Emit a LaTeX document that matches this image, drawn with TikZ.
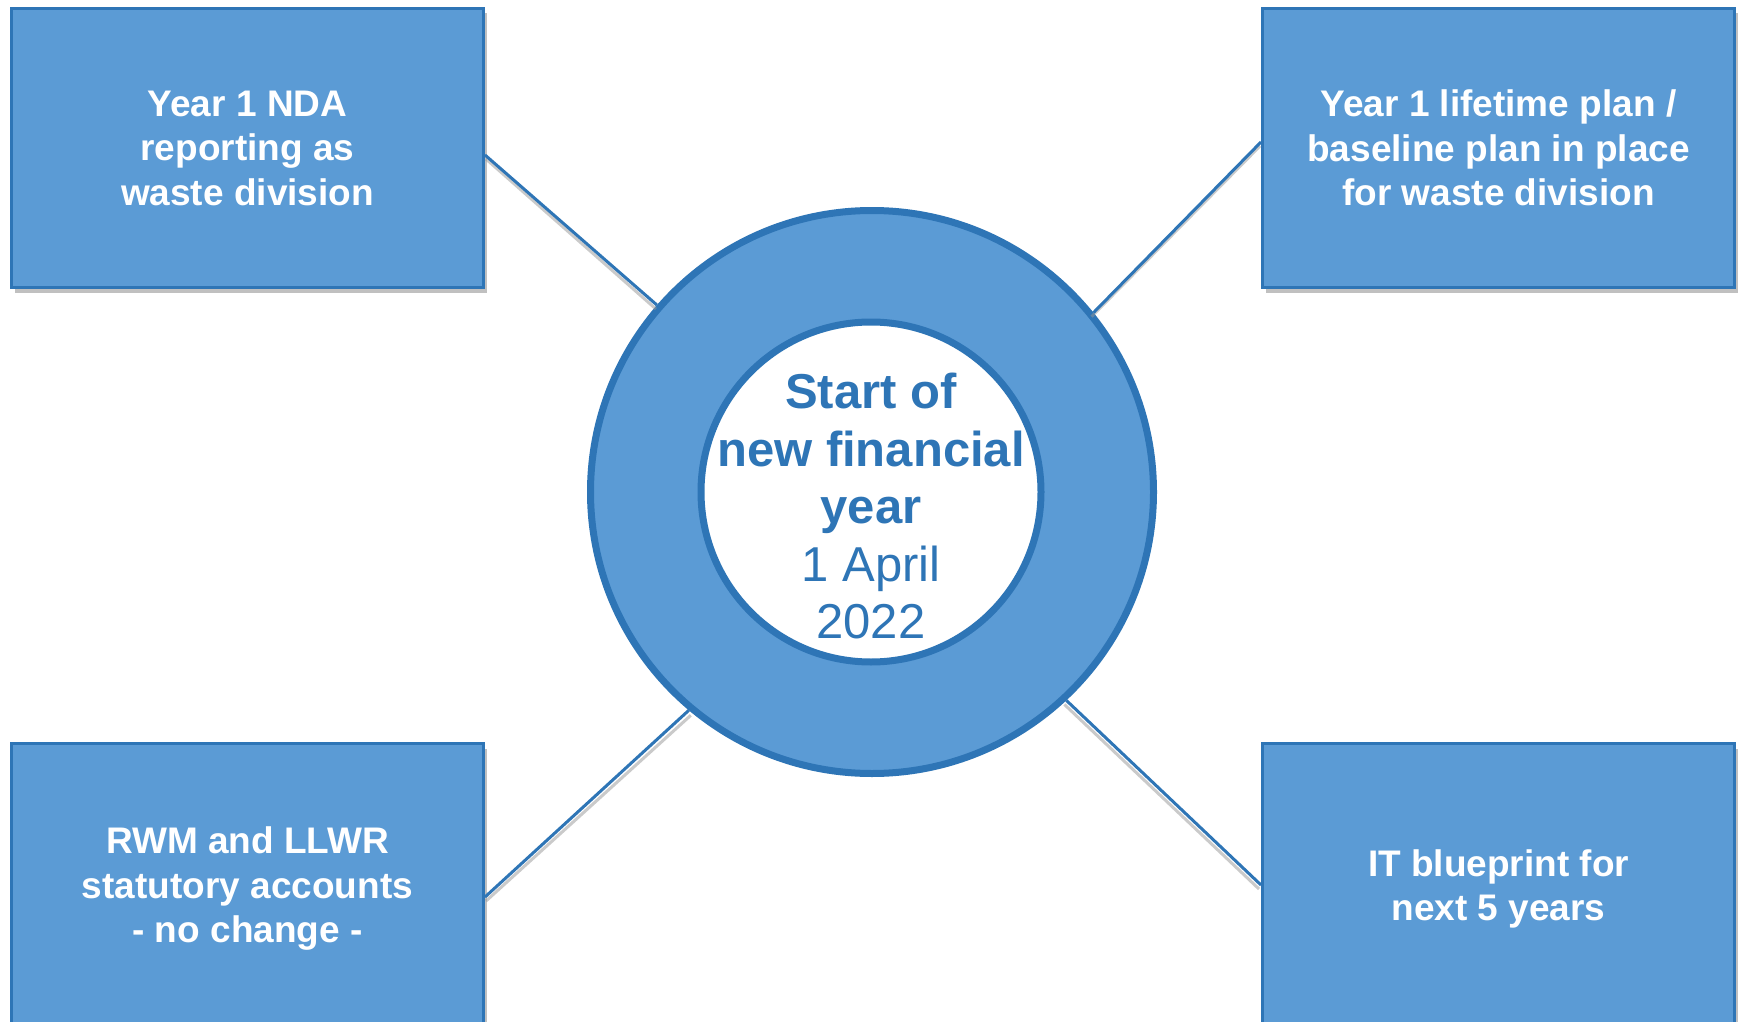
\documentclass[tikz,border=0pt]{standalone}
\usepackage{fontspec}
\setmainfont{Liberation Sans}
\usetikzlibrary{calc,shadows}
\definecolor{boxfill}{RGB}{91,155,213}
\definecolor{boxedge}{RGB}{46,117,182}
\definecolor{shadowgray}{RGB}{150,150,150}
\tikzset{
  infobox/.style={rectangle, draw=boxedge, fill=boxfill, line width=3pt,
    minimum width=472pt, minimum height=279pt, inner sep=0pt, align=center,
    text=white, font=\fontsize{37}{44.5}\selectfont\bfseries,
    drop shadow={shadow xshift=3pt, shadow yshift=-5pt, fill=shadowgray, opacity=0.6}},
  link/.style={draw=boxedge, line width=3pt},
  linkshadow/.style={draw=shadowgray, line width=3pt, opacity=0.5},
}
\begin{document}
\begin{tikzpicture}[x=1pt,y=-1pt]
\useasboundingbox (0,0) rectangle (1741,1022);
\clip (0,0) rectangle (1741,1022);
\fill[white] (0,0) rectangle (1741,1022);

% ring
\node[circle, draw=boxedge, fill=boxfill, line width=7pt, minimum size=563pt, inner sep=0pt] (ring) at (872,492) {};
\node[circle, draw=boxedge, fill=white, line width=7pt, minimum size=340pt, inner sep=0pt] (hub) at (871,492) {};
\node[align=center, text=boxedge, inner sep=0pt, font=\fontsize{49}{57.5}\selectfont] (hubtext) at (871,506)
  {\textbf{Start of}\\ \textbf{new financial}\\ \textbf{year}\\ 1 April\\ 2022};

% boxes
\node[infobox] (tl) at (247.5,148) {Year 1 NDA\\ reporting as\\ waste division};
\node[infobox] (tr) at (1498.5,148) {Year 1 lifetime plan /\\ baseline plan in place\\ for waste division};
\node[infobox, minimum height=291pt] (bl) at (247.5,889) {RWM and LLWR\\ statutory accounts\\ - no change -};
\node[infobox, minimum height=291pt] (br) at (1498.5,889) {IT blueprint for\\ next 5 years};

% connector shadows
\draw[linkshadow] ($(tl.east)+(1,11)$) -- ($(ring.139.7)+(-1,4)$);
\draw[linkshadow] ($(tr.west)+(-1,-2)$) -- ($(ring.39.6)+(-2,4)$);
\draw[linkshadow] ($(bl.east)+(1,12)$) -- ($(ring.230.3)+(2,5)$);
\draw[linkshadow] ($(br.west)+(-2,0)$) -- ($(ring.313.2)+(-2,4)$);
% connectors
\draw[link] ($(tl.east)+(0,7)$) -- (ring.139.7);
\draw[link] ($(tr.west)+(0,-6)$) -- (ring.39.6);
\draw[link] ($(bl.east)+(0,8)$) -- (ring.230.3);
\draw[link] ($(br.west)+(0,-4)$) -- (ring.313.2);
\end{tikzpicture}
\end{document}
